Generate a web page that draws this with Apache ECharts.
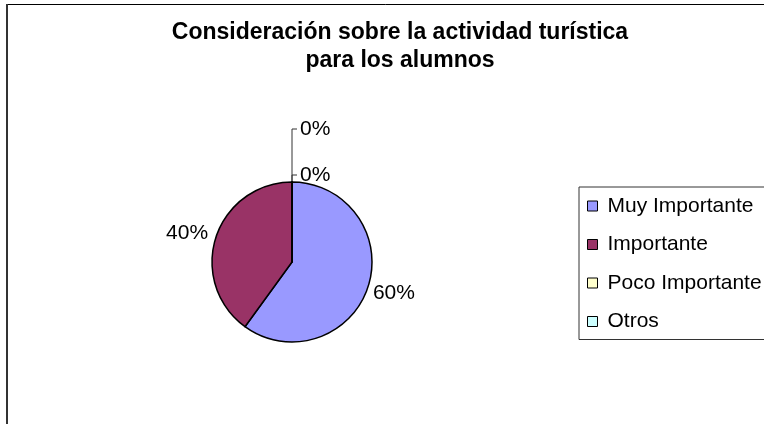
<!DOCTYPE html>
<html>
<head>
<meta charset="utf-8">
<script src="https://cdn.jsdelivr.net/npm/echarts@6/dist/echarts.min.js"></script>
<style>
html,body{margin:0;padding:0;background:#fff;}
#chart{width:764px;height:424px;}
</style>
</head>
<body>
<div id="chart"></div>
<script>
const titleText = 'Consideración sobre la actividad turística\npara los alumnos';
const categories = ['Muy Importante', 'Importante', 'Poco Importante', 'Otros'];
const values = [60, 40, 0, 0];
const colors = ['#9999FF', '#993366', '#FFFFCC', '#CCFFFF'];

const FONT = '"Liberation Sans", Arial, sans-serif';
const CX = 292, CY = 262, R = 80;

const chart = echarts.init(document.getElementById('chart'), null, {renderer: 'canvas'});

const data = categories.map((name, i) => ({
  name: name,
  value: values[i],
  itemStyle: {color: colors[i]},
  labelLine: {show: values[i] === 0}
}));

const option = {
  backgroundColor: '#ffffff',
  animation: false,
  textStyle: {fontFamily: FONT},
  title: {
    text: titleText,
    left: 395,
    top: 14,
    textAlign: 'center',
    textStyle: {fontFamily: FONT, fontSize: 23, fontWeight: 'bold', color: '#000', lineHeight: 28}
  },
  legend: {
    orient: 'vertical',
    left: 579,
    top: 187,
    padding: [8, 40, 7, 8],
    itemGap: 16.5,
    itemWidth: 10,
    itemHeight: 10,
    icon: 'rect',
    borderColor: '#333',
    borderWidth: 1,
    selectedMode: false,
    itemStyle: {borderColor: '#000', borderWidth: 1},
    textStyle: {fontFamily: FONT, fontSize: 21, color: '#000', lineHeight: 22, padding: [0, 0, 0, 5]},
    data: categories
  },
  graphic: [
    {type: 'line', shape: {x1: 6.5, y1: 4.5, x2: 800, y2: 4.5}, style: {stroke: '#000', lineWidth: 1}, silent: true},
    {type: 'line', shape: {x1: 7, y1: 4, x2: 7, y2: 440}, style: {stroke: '#333', lineWidth: 2}, silent: true}
  ],
  series: [{
    type: 'pie',
    center: [CX, CY],
    radius: R,
    startAngle: 90,
    clockwise: true,
    avoidLabelOverlap: false,
    emphasis: {disabled: true},
    itemStyle: {borderColor: '#000', borderWidth: 1.5},
    label: {
      show: true,
      position: 'outside',
      formatter: '{d}%',
      fontFamily: FONT,
      fontSize: 21,
      color: '#000',
      distanceToLabelLine: 3
    },
    labelLine: {length: 4, length2: 0, lineStyle: {color: '#333', width: 1}},
    labelLayout: function (p) {
      if (p.dataIndex === 0) return {dx: -2, dy: 5};
      if (p.dataIndex === 1) return {dx: -1, dy: -3};
      if (p.dataIndex === 2) {
        return {x: 300, y: 175, align: 'left', verticalAlign: 'middle',
          labelLinePoints: [[CX, CY - R], [CX, 175], [297, 175]]};
      }
      if (p.dataIndex === 3) {
        return {x: 300, y: 129, align: 'left', verticalAlign: 'middle',
          labelLinePoints: [[CX, CY - R], [CX, 129], [297, 129]]};
      }
      return {};
    },
    data: data
  }]
};
chart.setOption(option);
</script>
</body>
</html>
